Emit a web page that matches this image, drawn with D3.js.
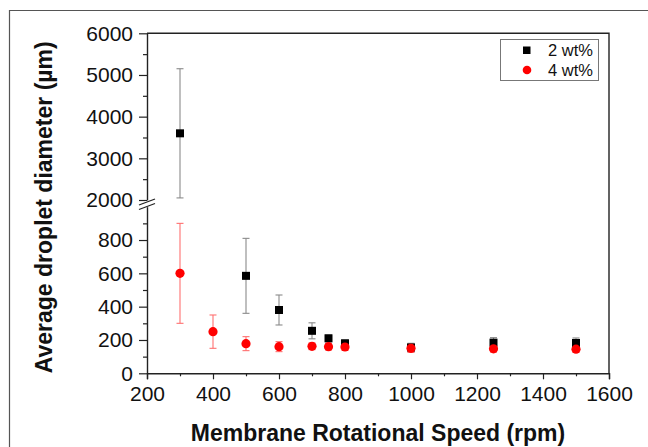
<!DOCTYPE html>
<html><head><meta charset="utf-8">
<script src="https://cdn.jsdelivr.net/npm/d3@7"></script>
<style>
body{margin:0;background:#fff;}
svg{display:block;font-family:"Liberation Sans",Arial,sans-serif;}
</style></head>
<body>
<svg id="c" width="648" height="447"></svg>
<script>
// ---- data ----
const speeds2 = [300, 500, 600, 700, 750, 800, 1000, 1250, 1500];
const diam2   = [3600, 585, 380, 255, 210, 180, 155, 184, 182];
const err2    = [1550, 225, 90, 48, 20, 20, 25, 30, 30];
const speeds4 = [300, 400, 500, 600, 700, 750, 800, 1000, 1250, 1500];
const diam4   = [600, 250, 178, 160, 162, 160, 158, 150, 147, 145];
const err4    = [300, 100, 42, 30, 20, 20, 20, 25, 20, 20];
const xTicks  = [200, 400, 600, 800, 1000, 1200, 1400, 1600];
const xMinor  = [300, 500, 700, 900, 1100, 1300, 1500];
const yLowTicks  = [0, 200, 400, 600, 800];
const yLowMinor  = [100, 300, 500, 700, 900];
const yHighTicks = [2000, 3000, 4000, 5000, 6000];
const yHighMinor = [2500, 3500, 4500, 5500];
const seriesNames = ["2 wt%", "4 wt%"];
const xTitle = "Membrane Rotational Speed (rpm)";
const yTitle = "Average droplet diameter (µm)";

const svg = d3.select("#c");
const L = 147, R = 609, T = 33.3, B = 373.3;
const x = d3.scaleLinear().domain([200, 1600]).range([L, R]);
const yLow = d3.scaleLinear().domain([0, 1000]).range([B, 206.7]);
const yHigh = d3.scaleLinear().domain([2000, 6000]).range([200, T]);
const y = v => v > 1000 ? yHigh(v) : yLow(v);
const axisColor = "#222";

// outer frame
svg.append("path").attr("d", "M9.5,447 V10.5 H648").attr("fill", "none").attr("stroke", "#555").attr("stroke-width", 1.2);

// plot box top/right
svg.append("path").attr("d", `M${L},${T} H${R} V${B}`).attr("fill", "none").attr("stroke", axisColor).attr("stroke-width", 1.4);

function styleAxis(g) {
  g.selectAll(".domain").attr("stroke", axisColor).attr("stroke-width", 1.4);
  g.selectAll(".tick line").attr("stroke", axisColor).attr("stroke-width", 1.2);
  g.selectAll(".tick text").attr("fill", "#111").style("font-size", "21px");
}

// x axis
const gx = svg.append("g").attr("transform", `translate(0,${B})`)
  .call(d3.axisBottom(x).tickValues(xTicks).tickSize(6).tickPadding(7).tickFormat(d3.format("d")));
styleAxis(gx);
const gxm = svg.append("g").attr("transform", `translate(0,${B})`)
  .call(d3.axisBottom(x).tickValues(xMinor).tickSize(3).tickFormat(""));
styleAxis(gxm); gxm.select(".domain").remove();

// y lower
const gyl = svg.append("g").attr("transform", `translate(${L},0)`)
  .call(d3.axisLeft(yLow).tickValues(yLowTicks).tickSize(8).tickPadding(6).tickSizeOuter(0).tickFormat(d3.format("d")));
styleAxis(gyl);
const gylm = svg.append("g").attr("transform", `translate(${L},0)`)
  .call(d3.axisLeft(yLow).tickValues(yLowMinor).tickSize(4).tickFormat(""));
styleAxis(gylm); gylm.select(".domain").remove();

// y upper
const gyh = svg.append("g").attr("transform", `translate(${L},0)`)
  .call(d3.axisLeft(yHigh).tickValues(yHighTicks).tickSize(8).tickPadding(6).tickSizeOuter(0).tickFormat(d3.format("d")));
styleAxis(gyh);
const gyhm = svg.append("g").attr("transform", `translate(${L},0)`)
  .call(d3.axisLeft(yHigh).tickValues(yHighMinor).tickSize(4).tickFormat(""));
styleAxis(gyhm); gyhm.select(".domain").remove();

// break marks
const bk = svg.append("g");
bk.append("rect").attr("x", L - 2).attr("y", yHigh(2000) + 1).attr("width", 4).attr("height", 5).attr("fill", "#fff");
[0, 4.5].forEach(o => {
  bk.append("line").attr("x1", L - 8).attr("y1", yHigh(2000) + 5 + o).attr("x2", L + 8).attr("y2", yHigh(2000) - 1 + o)
    .attr("stroke", axisColor).attr("stroke-width", 1.3);
});

// error bars
function errBars(sp, dv, ev, color) {
  const g = svg.append("g").attr("stroke", color).attr("stroke-width", 1.1);
  sp.forEach((s, i) => {
    const cx = x(s), y1 = y(dv[i] + ev[i]), y2 = y(dv[i] - ev[i]);
    g.append("line").attr("x1", cx).attr("x2", cx).attr("y1", y1).attr("y2", y2);
    g.append("line").attr("x1", cx - 3.5).attr("x2", cx + 3.5).attr("y1", y1).attr("y2", y1);
    g.append("line").attr("x1", cx - 3.5).attr("x2", cx + 3.5).attr("y1", y2).attr("y2", y2);
  });
}
errBars(speeds2, diam2, err2, "#8a8a8a");
errBars(speeds4, diam4, err4, "#ff7070");

// markers
svg.append("g").selectAll("rect").data(speeds2).join("rect")
  .attr("x", d => x(d) - 4).attr("y", (d, i) => y(diam2[i]) - 4)
  .attr("width", 8).attr("height", 8).attr("fill", "#000");
svg.append("g").selectAll("circle").data(speeds4).join("circle")
  .attr("cx", d => x(d)).attr("cy", (d, i) => y(diam4[i])).attr("r", 4.6).attr("fill", "#ff0000");

// legend
const lg = svg.append("g");
lg.append("rect").attr("x", 500.5).attr("y", 39.5).attr("width", 98).attr("height", 41)
  .attr("fill", "#fff").attr("stroke", "#777").attr("stroke-width", 1);
lg.append("rect").attr("x", 523).attr("y", 46.5).attr("width", 7.5).attr("height", 7.5).attr("fill", "#000");
lg.append("circle").attr("cx", 527).attr("cy", 70).attr("r", 4.3).attr("fill", "#ff0000");
seriesNames.forEach((n, i) => {
  lg.append("text").attr("x", 548).attr("y", 56 + i * 20).attr("fill", "#111")
    .style("font-size", "16.5px").text(n);
});

// titles
svg.append("text").attr("x", (L + R) / 2).attr("y", 441).attr("text-anchor", "middle")
  .style("font-size", "23px").style("font-weight", "bold").attr("fill", "#111").text(xTitle);
svg.append("text").attr("transform", `translate(52,${(T + B) / 2 + 4}) rotate(-90)`).attr("text-anchor", "middle")
  .style("font-size", "23px").style("font-weight", "bold").attr("fill", "#111").text(yTitle);
</script>
</body></html>
